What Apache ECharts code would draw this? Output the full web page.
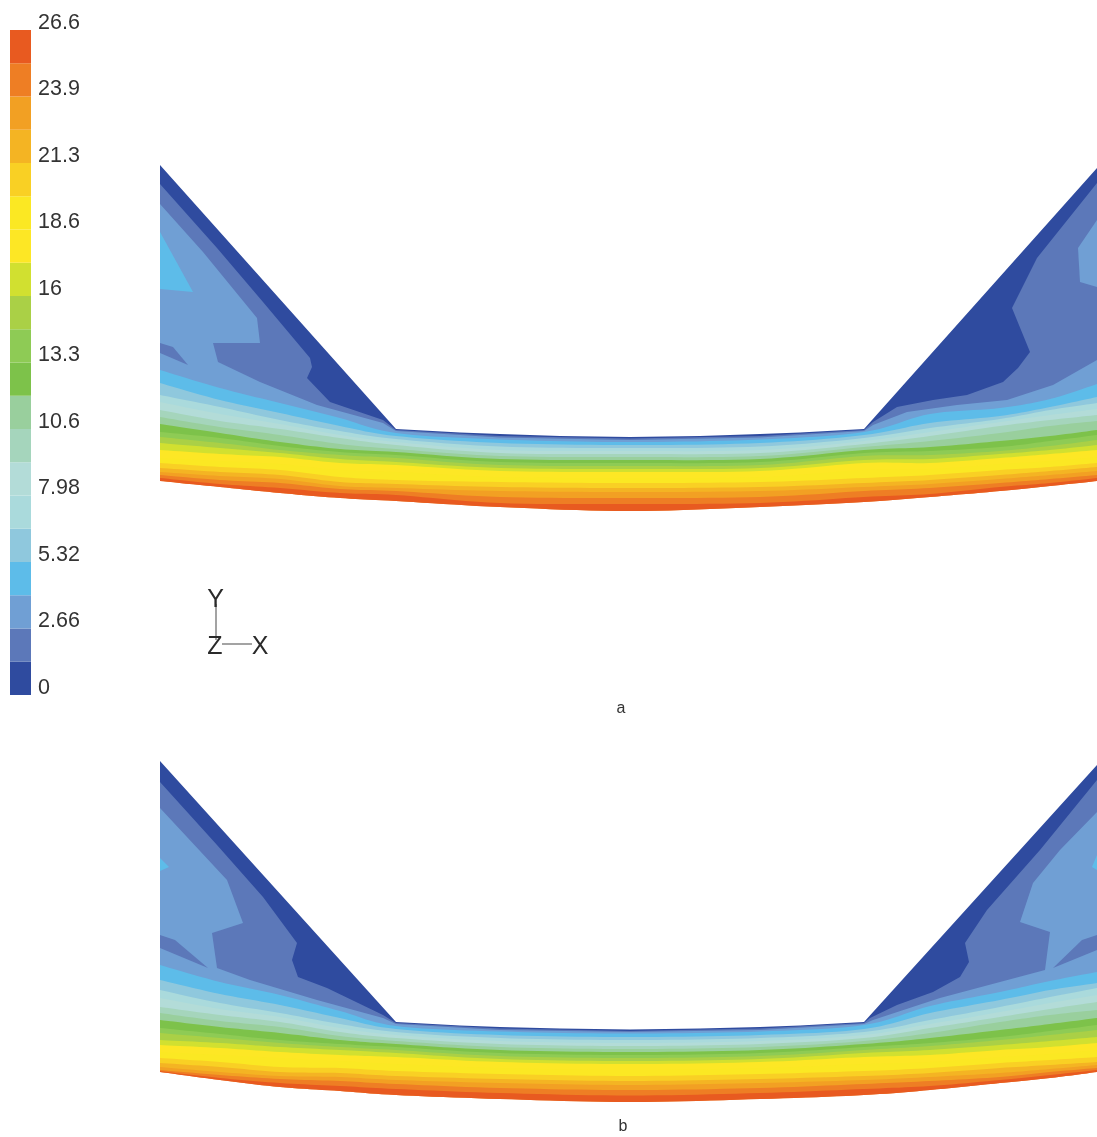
<!DOCTYPE html>
<html>
<head>
<meta charset="utf-8">
<style>html,body{margin:0;padding:0;background:#fff}#chart{width:1097px;height:1137px}</style>
<script src="https://cdn.jsdelivr.net/npm/echarts@6/dist/echarts.min.js"></script>
</head>
<body>
<div id="chart"></div>
<script>
const colorbarTicks = ['0','2.66','5.32','7.98','10.6','13.3','16','18.6','21.3','23.9','26.6'];
const bandWidth = 1.33;
const bandColors = ['#2f4b9f','#5c78b9','#709fd4','#5dbce9','#8fc8dd','#aadadc','#b3dcd8','#a5d5bc','#99cf9d','#7dc24a',
  '#8ecb55','#aad046','#d1e030','#fde725','#fbe823','#f9d024','#f4b423','#f2a023','#ee7e24','#e85a20'];

const stations = [160,220,280,340,396,500,630,760,864,930,1000,1050,1097];

// panel a
const aTop = [[160,165],[396,429],[460,432.5],[500,434],[560,436],[630,437],[700,436],[760,434],[800,432.5],[864,429],[1097,168]];
const aBottom = [481,487,493,498,501,507,511,507,502,497,491,486,481];
const aLevel1 = [[160,184],[217,248],[263,302],[310,358],[312,367],[307,378],[330,402],[383,420],[396,430],[500,436],[630,438.5],[760,436],[864,430],[873,422],[897,407],[933,400],[967,395],[1003,382],[1018,368],[1030,352],[1012,308],[1037,258],[1097,183]];
const aLevel2 = [[160,204],[203,252],[257,318],[260,343],[213,343],[218,362],[260,382],[317,405],[383,423],[396,431],[500,437.5],[630,440],[760,437.5],[864,431],[873,425],[907,412],[957,405],[1007,400],[1053,385],[1097,360]];
const aIslandsBand1 = [[[160,343],[173,347],[188,365],[160,353]]];
const aIslandsBand2 = [[[1097,220],[1078,248],[1080,282],[1097,287]]];
const aIslandsBand3 = [[[160,232],[193,292],[160,289]]];
const aLevels = [
 [370,388,403,418,433,439.5,442,439.5,432,414,408,399,384],
 [383,400,413,426,436,443,445,443,435,423,416,407,397],
 [395,407,420,431,439,446.5,448,446.5,438,428,419,410,403],
 [402,414,424,435,442,450,451,450,441,432,422,415,409],
 [410,421,429,438,445,453,454,453,444,436,426,420,415],
 [417,427,435,444,449,456,457,456,447,441,433,426,421],
 [424,433,442,449,452,459,460,459,450,447,441,436,430],
 [432,438,446,452,455,462,463,462,453,451,447,441,435],
 [437,443,450,455,458,465,466,465,456,455,451,446,440],
 [443,448,453,459,462,468,469,468,460,459,454,450,445],
 [450,454,457,463,465,471,472,471,463,463,458,454,450],
 [458,461,464,470,472,477,478,477,470,469,464,461,457],
 [463,467,470,477,480,482,483,482,478,475,470,467,463],
 [468,472,475,482,484,487,488,487,483,480,475,471,467],
 [472,476,479,486,488,491,492,491,487,484,479,475,471],
 [475,480,483,489,491,497,498,497,491,488,483,479,475],
 [478,484,488,493,495,503,504,503,497,494,487,483,478]
];

// panel b
const bTop = [[160,761],[396,1022],[460,1025.5],[500,1027],[560,1028.5],[630,1029.5],[700,1028.5],[760,1027],[800,1025.5],[864,1022],[1097,765]];
const bBottom = [1072,1080,1087,1091,1095,1099,1102,1099,1095,1090,1083,1078,1072];
const bLevel1 = [[160,782],[217,845],[263,897],[297,943],[292,960],[298,977],[327,988],[383,1015],[396,1023],[500,1028.5],[630,1031],[760,1028.5],[864,1023],[870,1018],[897,1005],[933,992],[960,977],[969,962],[965,943],[987,910],[1040,850],[1097,780]];
const bLevel2 = [[160,808],[227,880],[243,923],[212,933],[217,968],[250,980],[317,1000],[383,1018],[396,1024],[500,1030],[630,1032],[760,1030],[864,1024],[873,1020],[940,998],[1000,982],[1045,970],[1050,932],[1020,922],[1033,883],[1060,850],[1097,812]];
const bIslandsBand1 = [[[160,935],[175,940],[208,968],[160,948]],[[1097,935],[1082,940],[1053,968],[1097,950]]];
const bIslandsBand2 = [];
const bIslandsBand3 = [[[160,858],[169,867],[160,871]],[[1097,855],[1092,867],[1097,870]]];
const bLevels = [
 [965,982,995,1011,1026,1031.5,1033.5,1031.5,1025,1006,992,981,972],
 [980,994,1005,1018,1029,1035,1037,1035,1029,1013,1000,990,983],
 [990,1003,1013,1024,1032,1038,1040,1038,1032,1020,1007,997,988],
 [998,1009,1017,1028,1035,1041,1043,1041,1035,1024,1012,1003,995],
 [1007,1015,1022,1032,1038,1044,1046,1044,1038,1028,1017,1009,1002],
 [1013,1021,1027,1036,1041,1047,1049,1047,1041,1033,1022,1015,1010],
 [1020,1027,1033,1040,1044,1050,1052,1050,1044,1038,1030,1024,1018],
 [1028,1034,1040,1044,1047,1053,1055,1053,1047,1043,1037,1031,1025],
 [1033,1038,1043,1047,1050,1056,1058,1056,1050,1046,1040,1035,1030],
 [1040,1043,1047,1050,1053,1059,1061,1059,1053,1050,1045,1041,1037],
 [1045,1048,1052,1055,1057,1062,1064,1062,1057,1055,1050,1047,1043],
 [1052,1055,1058,1061,1064,1068,1070,1068,1064,1062,1057,1054,1050],
 [1058,1062,1067,1068,1071,1074,1076,1074,1071,1068,1063,1060,1057],
 [1063,1067,1072,1073,1076,1079,1081,1079,1076,1073,1068,1065,1062],
 [1067,1072,1076,1077,1080,1083,1085,1083,1080,1077,1073,1069,1065],
 [1070,1075,1079,1081,1084,1088,1090,1088,1084,1081,1077,1072,1068],
 [1071,1078,1083,1086,1089,1093,1095.5,1093,1089,1086,1080,1075,1070]
];

const triadLines = [[[216,604],[216,640]],[[222,644],[252,644]]];
const triadLabels = [['Y',215.5,600],['Z',215,647],['X',260,647]];
const captions = [['a',621,709],['b',623,1127]];

// Curve through the read values, for drawing the smooth contour lines only.
function curveThrough(pts) {
  const out = [];
  for (let i = 0; i < pts.length - 1; i++) {
    const p0 = pts[Math.max(i - 1, 0)], p1 = pts[i], p2 = pts[i + 1], p3 = pts[Math.min(i + 2, pts.length - 1)];
    for (let s = 0; s < 10; s++) {
      const t = s / 10, t2 = t * t, t3 = t2 * t;
      out.push([0, 1].map(d => 0.5 * (2 * p1[d] + (p2[d] - p0[d]) * t +
        (2 * p0[d] - 5 * p1[d] + 4 * p2[d] - p3[d]) * t2 + (3 * p1[d] - p0[d] - 3 * p2[d] + p3[d]) * t3)));
    }
  }
  out.push(pts[pts.length - 1]);
  return out;
}

function panelShapes(top, bottom, level1, level2, islands1, islands2, islands3, levels) {
  const lines = levels.map(ys => curveThrough(stations.map((x, i) => [x, ys[i]])));
  lines.push(curveThrough(stations.map((x, i) => [x, bottom[i]])));
  const shapes = [];
  // each band's polygon closes on a contour further down, so no colour reaches the lower rim
  const closeOn = lines[1].slice().reverse();
  shapes.push({band: 0, pts: top.concat(closeOn)});
  shapes.push({band: 1, pts: level1.concat(closeOn)});
  shapes.push({band: 2, pts: level2.concat(closeOn)});
  islands1.forEach(p => shapes.push({band: 1, pts: p}));
  islands2.forEach(p => shapes.push({band: 2, pts: p}));
  islands3.forEach(p => shapes.push({band: 3, pts: p}));
  levels.forEach((ys, k) => {
    const lower = lines[Math.min(k + 2, lines.length - 1)].slice().reverse();
    shapes.push({band: k + 3, pts: lines[k].concat(lower)});
  });
  return shapes;
}
const shapes = panelShapes(aTop, aBottom, aLevel1, aLevel2, aIslandsBand1, aIslandsBand2, aIslandsBand3, aLevels)
  .concat(panelShapes(bTop, bBottom, bLevel1, bLevel2, bIslandsBand1, bIslandsBand2, bIslandsBand3, bLevels));

const chart = echarts.init(document.getElementById('chart'), null, {renderer: 'canvas'});
chart.setOption({
  animation: false,
  backgroundColor: '#ffffff',
  textStyle: {fontFamily: '"Liberation Sans", Arial, sans-serif'},
  grid: [
    {left: 0, top: 0, width: 1097, height: 1137},
    {left: 10, top: 30, width: 21, height: 665}
  ],
  xAxis: [
    {type: 'value', gridIndex: 0, min: 0, max: 1097, show: false},
    {type: 'value', gridIndex: 1, min: 0, max: 1, show: false}
  ],
  yAxis: [
    {type: 'value', gridIndex: 0, min: 0, max: 1137, inverse: true, show: false},
    {type: 'value', gridIndex: 1, min: 0, max: 26.6, interval: 2.66, position: 'right',
     axisLine: {show: false}, axisTick: {show: false}, splitLine: {show: false},
     axisLabel: {show: true, margin: 7, fontSize: 21.5, color: '#333333', align: 'left',
       verticalAlign: 'bottom', lineHeight: 14, hideOverlap: false, showMinLabel: true, showMaxLabel: true,
       formatter: v => colorbarTicks[Math.round(v / 2.66)]}}
  ],
  series: [
    {type: 'custom', xAxisIndex: 0, yAxisIndex: 0, silent: true, coordinateSystem: 'cartesian2d',
     data: shapes.map((s, i) => [i]), encode: {x: [], y: []},
     renderItem: (params, api) => {
       const s = shapes[params.dataIndex];
       return {type: 'polygon', shape: {points: s.pts.map(p => api.coord(p))}, style: {fill: bandColors[s.band]}};
     }},
    {type: 'custom', xAxisIndex: 1, yAxisIndex: 1, silent: true, coordinateSystem: 'cartesian2d',
     data: bandColors.map((c, i) => [i]), encode: {x: [], y: []},
     renderItem: (params, api) => {
       const k = params.dataIndex;
       const a = api.coord([0, k * bandWidth]);
       const b = api.coord([1, (k + 1) * bandWidth]);
       return {type: 'rect', shape: {x: a[0], y: b[1], width: b[0] - a[0], height: a[1] - b[1]}, style: {fill: bandColors[k]}};
     }},
    {type: 'custom', xAxisIndex: 0, yAxisIndex: 0, silent: true, coordinateSystem: 'cartesian2d',
     data: triadLines.map((l, i) => [i]), encode: {x: [], y: []},
     renderItem: (params, api) => {
       const l = triadLines[params.dataIndex];
       const a = api.coord(l[0]), b = api.coord(l[1]);
       return {type: 'line', shape: {x1: a[0], y1: a[1], x2: b[0], y2: b[1]}, style: {stroke: '#666666', lineWidth: 1.2}};
     }},
    {type: 'custom', xAxisIndex: 0, yAxisIndex: 0, silent: true, coordinateSystem: 'cartesian2d',
     data: triadLabels.map((l, i) => [i]), encode: {x: [], y: []},
     renderItem: (params, api) => {
       const l = triadLabels[params.dataIndex];
       const a = api.coord([l[1], l[2]]);
       return {type: 'text', x: a[0], y: a[1], style: {text: l[0], fontSize: 25, fontFamily: '"Liberation Sans", Arial, sans-serif', fill: '#2a2a2a', align: 'center', verticalAlign: 'middle'}};
     }},
    {type: 'custom', xAxisIndex: 0, yAxisIndex: 0, silent: true, coordinateSystem: 'cartesian2d',
     data: captions.map((l, i) => [i]), encode: {x: [], y: []},
     renderItem: (params, api) => {
       const l = captions[params.dataIndex];
       const a = api.coord([l[1], l[2]]);
       return {type: 'text', x: a[0], y: a[1], style: {text: l[0], fontSize: 16, fontFamily: '"Liberation Sans", Arial, sans-serif', fill: '#333333', align: 'center', verticalAlign: 'middle'}};
     }}
  ]
});
</script>
</body>
</html>
